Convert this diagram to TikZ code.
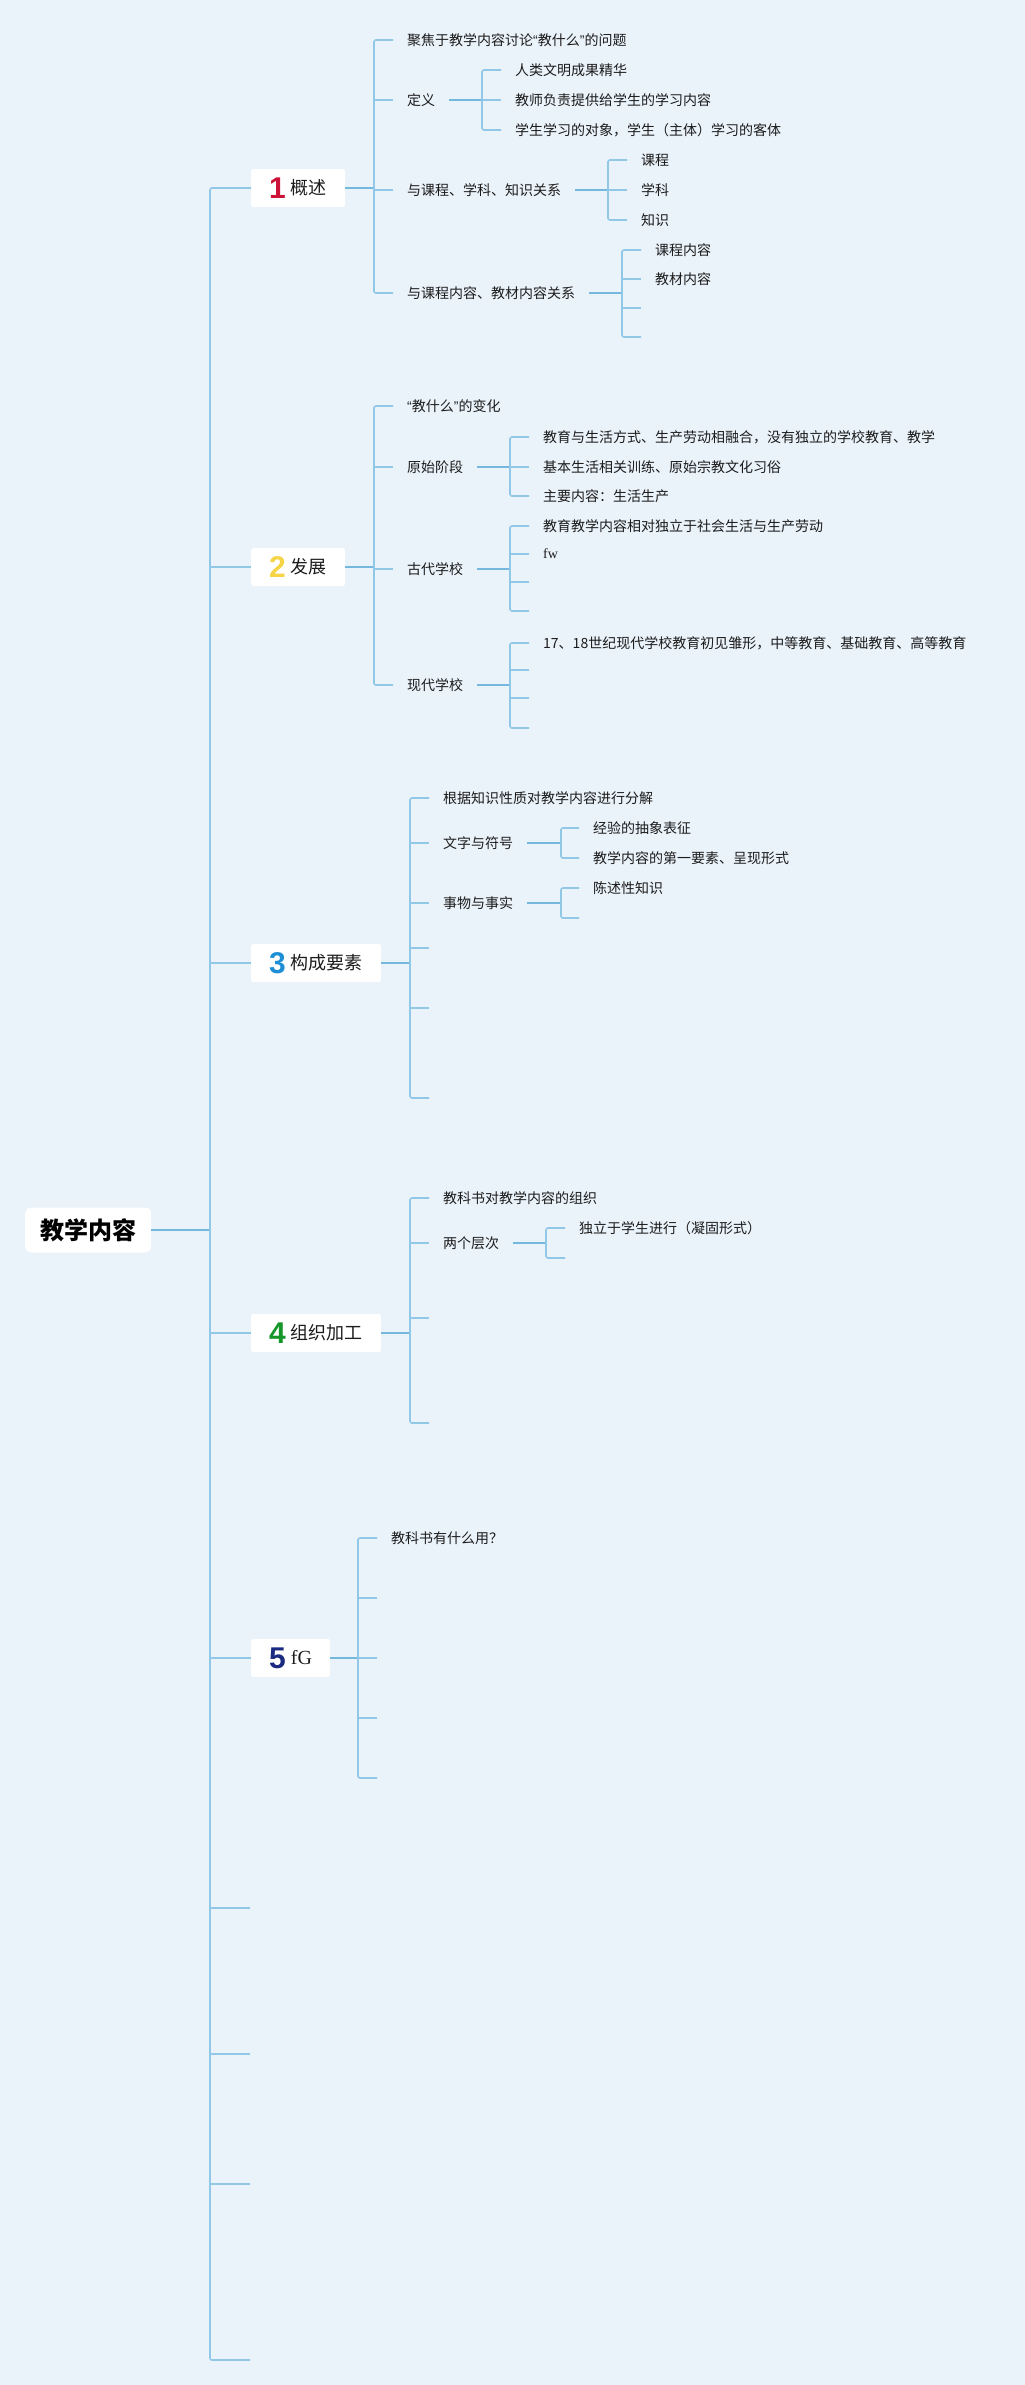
\documentclass[tikz,border=0pt]{standalone}
\usepackage{fontspec}
\setmainfont{Noto Sans CJK SC}
\newfontfamily\numfont{Liberation Sans}
\newfontfamily\romanfont{Liberation Serif}

\definecolor{paper}{HTML}{EAF2FA}
\definecolor{lineblue}{HTML}{92C8E7}
\definecolor{joinblue}{HTML}{74B8DE}
\definecolor{inkgray}{HTML}{1C1C1C}
\definecolor{numred}{HTML}{CC1236}
\definecolor{numyellow}{HTML}{F5D445}
\definecolor{numblue}{HTML}{1E8FD6}
\definecolor{numgreen}{HTML}{16962A}
\definecolor{numnavy}{HTML}{1B2A80}

% digit + title of a topic box
\newcommand{\topicnum}[3]{{\numfont\bfseries\fontsize{30}{30}\selectfont\color{#1}#2}\hspace{5pt}\raisebox{3.5pt}{#3}}
% narrow quotes
\newcommand{\oq}{{\numfont “}}
\newcommand{\cq}{{\numfont ”}}

\begin{document}
\begin{tikzpicture}[x=1pt,y=-1pt,
    leaf/.style={anchor=west,inner xsep=14pt,inner ysep=2pt,text=inkgray,font=\fontsize{14}{16}\selectfont},
    topic/.style={anchor=west,fill=white,rounded corners=2pt,minimum height=38pt,inner xsep=18pt,inner ysep=0pt,text=inkgray,font=\fontsize{18}{20}\selectfont},
    rootbox/.style={anchor=west,fill=white,rounded corners=6pt,minimum height=45pt,inner xsep=15pt,font=\bfseries\fontsize{24}{26}\selectfont},
    branch/.style={draw=lineblue,line width=1.6pt,rounded corners=2pt},
    joinline/.style={draw=joinblue,line width=2.4pt}]

    \fill[paper] (0,0) rectangle (1025,2385);
    \useasboundingbox (0,0) rectangle (1025,2385);

    % root and trunk
    \coordinate (trunk) at (210,0);
    \node[rootbox] (root) at (25,1230) {教学内容};
    \node[topic] (t1) at (251,188) {\topicnum{numred}{1}{概述}};
    \node[topic] (t2) at (251,567) {\topicnum{numyellow}{2}{发展}};
    \node[topic] (t3) at (251,963) {\topicnum{numblue}{3}{构成要素}};
    \node[topic] (t4) at (251,1333) {\topicnum{numgreen}{4}{组织加工}};
    \node[topic] (t5) at (251,1658) {\topicnum{numnavy}{5}{\romanfont\fontsize{20}{20}\selectfont fG}};
    \coordinate (tr1) at (250,1908);
    \coordinate (tr2) at (250,2054);
    \coordinate (tr3) at (250,2184);
    \coordinate (tr4) at (250,2360);
    \draw[joinline] (root.east) -- (root.east -| trunk);
    \draw[branch] (t1.west) -| (trunk |- tr4) -- (tr4);
    \foreach \n in {t2.west,t3.west,t4.west,t5.west,tr1,tr2,tr3} % edit here for the trunk stubs
        \draw[branch] (\n) -- (\n -| trunk);

    % 1
    \coordinate (gA) at (374,0);
    \node[leaf] (a1) at (393,40) {聚焦于教学内容讨论\oq 教什么\cq 的问题};
    \node[leaf] (a2) at (393,100) {定义};
    \node[leaf] (a3) at (393,190) {与课程、学科、知识关系};
    \node[leaf] (a4) at (393,293) {与课程内容、教材内容关系};
    \draw[joinline] (t1.east) -- (t1.east -| gA);
    \draw[branch] (a1.west) -| (gA |- a4.west) -- (a4.west);
    \foreach \n in {a2,a3}
        \draw[branch] (\n.west) -- (\n.west -| gA);

    \coordinate (gAd) at (482,0);
    \node[leaf] (a21) at (501,70) {人类文明成果精华};
    \node[leaf] (a22) at (501,100) {教师负责提供给学生的学习内容};
    \node[leaf] (a23) at (501,130) {学生学习的对象，学生（主体）学习的客体};
    \draw[joinline] (a2.east) -- (a2.east -| gAd);
    \draw[branch] (a21.west) -| (gAd |- a23.west) -- (a23.west);
    \draw[branch] (a22.west) -- (a22.west -| gAd);

    \coordinate (gAr) at (608,0);
    \node[leaf] (a31) at (627,160) {课程};
    \node[leaf] (a32) at (627,190) {学科};
    \node[leaf] (a33) at (627,220) {知识};
    \draw[joinline] (a3.east) -- (a3.east -| gAr);
    \draw[branch] (a31.west) -| (gAr |- a33.west) -- (a33.west);
    \draw[branch] (a32.west) -- (a32.west -| gAr);

    \coordinate (gAm) at (622,0);
    \node[leaf] (a41) at (641,250) {课程内容};
    \node[leaf] (a42) at (641,279) {教材内容};
    \coordinate (a43) at (641,308);
    \coordinate (a44) at (641,337);
    \draw[joinline] (a4.east) -- (a4.east -| gAm);
    \draw[branch] (a41.west) -| (gAm |- a44) -- (a44);
    \foreach \n in {a42.west,a43}
        \draw[branch] (\n) -- (\n -| gAm);

    % 2
    \coordinate (gB) at (374,0);
    \node[leaf] (b1) at (393,406) {\oq 教什么\cq 的变化};
    \node[leaf] (b2) at (393,467) {原始阶段};
    \node[leaf] (b3) at (393,569) {古代学校};
    \node[leaf] (b4) at (393,685) {现代学校};
    \draw[joinline] (t2.east) -- (t2.east -| gB);
    \draw[branch] (b1.west) -| (gB |- b4.west) -- (b4.west);
    \foreach \n in {b2,b3}
        \draw[branch] (\n.west) -- (\n.west -| gB);

    \coordinate (gBy) at (510,0);
    \node[leaf] (b21) at (529,437) {教育与生活方式、生产劳动相融合，没有独立的学校教育、教学};
    \node[leaf] (b22) at (529,467) {基本生活相关训练、原始宗教文化习俗};
    \node[leaf] (b23) at (529,496) {主要内容：生活生产};
    \draw[joinline] (b2.east) -- (b2.east -| gBy);
    \draw[branch] (b21.west) -| (gBy |- b23.west) -- (b23.west);
    \draw[branch] (b22.west) -- (b22.west -| gBy);

    \coordinate (gBg) at (510,0);
    \node[leaf] (b31) at (529,526) {教育教学内容相对独立于社会生活与生产劳动};
    \node[leaf,font=\romanfont\fontsize{14}{16}\selectfont] (b32) at (529,554) {fw};
    \coordinate (b33) at (529,582);
    \coordinate (b34) at (529,611);
    \draw[joinline] (b3.east) -- (b3.east -| gBg);
    \draw[branch] (b31.west) -| (gBg |- b34) -- (b34);
    \foreach \n in {b32.west,b33}
        \draw[branch] (\n) -- (\n -| gBg);

    \coordinate (gBx) at (510,0);
    \node[leaf] (b41) at (529,643) {17、18世纪现代学校教育初见雏形，中等教育、基础教育、高等教育};
    \coordinate (b42) at (529,670);
    \coordinate (b43) at (529,698);
    \coordinate (b44) at (529,728);
    \draw[joinline] (b4.east) -- (b4.east -| gBx);
    \draw[branch] (b41.west) -| (gBx |- b44) -- (b44);
    \foreach \n in {b42,b43}
        \draw[branch] (\n) -- (\n -| gBx);

    % 3
    \coordinate (gC) at (410,0);
    \node[leaf] (c1) at (429,798) {根据知识性质对教学内容进行分解};
    \node[leaf] (c2) at (429,843) {文字与符号};
    \node[leaf] (c3) at (429,903) {事物与事实};
    \coordinate (c4) at (429,948);
    \coordinate (c5) at (429,1008);
    \coordinate (c6) at (429,1098);
    \draw[joinline] (t3.east) -- (t3.east -| gC);
    \draw[branch] (c1.west) -| (gC |- c6) -- (c6);
    \foreach \n in {c2.west,c3.west,c4,c5}
        \draw[branch] (\n) -- (\n -| gC);

    \coordinate (gCw) at (561,0);
    \node[leaf] (c21) at (579,828) {经验的抽象表征};
    \node[leaf] (c22) at (579,858) {教学内容的第一要素、呈现形式};
    \draw[joinline] (c2.east) -- (c2.east -| gCw);
    \draw[branch] (c21.west) -| (gCw |- c22.west) -- (c22.west);

    \coordinate (gCs) at (561,0);
    \node[leaf] (c31) at (579,888) {陈述性知识};
    \coordinate (c32) at (579,918);
    \draw[joinline] (c3.east) -- (c3.east -| gCs);
    \draw[branch] (c31.west) -| (gCs |- c32) -- (c32);

    % 4
    \coordinate (gD) at (410,0);
    \node[leaf] (d1) at (429,1198) {教科书对教学内容的组织};
    \node[leaf] (d2) at (429,1243) {两个层次};
    \coordinate (d3) at (429,1318);
    \coordinate (d4) at (429,1423);
    \draw[joinline] (t4.east) -- (t4.east -| gD);
    \draw[branch] (d1.west) -| (gD |- d4) -- (d4);
    \foreach \n in {d2.west,d3}
        \draw[branch] (\n) -- (\n -| gD);

    \coordinate (gDl) at (546,0);
    \node[leaf] (d21) at (565,1228) {独立于学生进行（凝固形式）};
    \coordinate (d22) at (565,1258);
    \draw[joinline] (d2.east) -- (d2.east -| gDl);
    \draw[branch] (d21.west) -| (gDl |- d22) -- (d22);

    % 5
    \coordinate (gE) at (358,0);
    \node[leaf] (e1) at (377,1538) {教科书有什么用？};
    \coordinate (e2) at (377,1598);
    \coordinate (e3) at (377,1658);
    \coordinate (e4) at (377,1718);
    \coordinate (e5) at (377,1778);
    \draw[joinline] (t5.east) -- (t5.east -| gE);
    \draw[branch] (e1.west) -| (gE |- e5) -- (e5);
    \foreach \n in {e2,e3,e4}
        \draw[branch] (\n) -- (\n -| gE);
\end{tikzpicture}
\end{document}
